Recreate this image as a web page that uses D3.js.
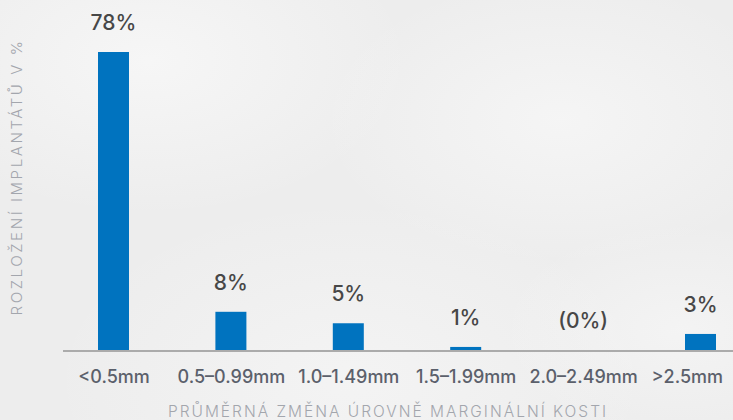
<!DOCTYPE html>
<html>
<head>
<meta charset="utf-8">
<script src="https://cdn.jsdelivr.net/npm/d3@7"></script>
<style>
  html, body { margin: 0; padding: 0; background: #efefef; }
  svg { display: block; }
</style>
</head>
<body>
<svg></svg>
<script>
const width = 733;
const height = 420;

// data
const categories = ["<0.5mm", "0.5–0.99mm", "1.0–1.49mm", "1.5–1.99mm", "2.0–2.49mm", ">2.5mm"];
const values = [78, 10, 7, 0.8, 0, 4.2];   // bar heights as drawn
const valueLabels = ["78%", "8%", "5%", "1%", "(0%)", "3%"];

const yTitle = "ROZLOŽENÍ IMPLANTÁTŮ V %";
const xTitle = "PRŮMĚRNÁ ZMĚNA ÚROVNĚ MARGINÁLNÍ KOSTI";

const baseY = 350;
const barW = 31;

const svg = d3.select("svg")
  .attr("width", width)
  .attr("height", height);

// cloudy background
const defs = svg.append("defs");
const clouds = [
  { id: "c1", cx: 150, cy: 60, r: 260, o: 0.7 },
  { id: "c2", cx: 560, cy: 120, r: 240, o: 0.6 },
  { id: "c3", cx: 350, cy: 380, r: 300, o: 0.5 },
  { id: "c4", cx: 680, cy: 330, r: 180, o: 0.5 }
];
clouds.forEach(c => {
  const g = defs.append("radialGradient").attr("id", c.id);
  g.append("stop").attr("offset", "0%").attr("stop-color", "#fafafa").attr("stop-opacity", c.o);
  g.append("stop").attr("offset", "100%").attr("stop-color", "#fafafa").attr("stop-opacity", 0);
});
svg.append("rect").attr("width", width).attr("height", height).attr("fill", "#ededed");
svg.selectAll("ellipse.cloud")
  .data(clouds)
  .enter()
  .append("ellipse")
  .attr("class", "cloud")
  .attr("cx", d => d.cx)
  .attr("cy", d => d.cy)
  .attr("rx", d => d.r)
  .attr("ry", d => d.r * 0.6)
  .attr("fill", d => `url(#${d.id})`);

const x = d3.scalePoint()
  .domain(categories)
  .range([113.5, 700.5]);

const y = d3.scaleLinear()
  .domain([0, 78])
  .range([baseY, 52]);

// bars
svg.selectAll("rect.bar")
  .data(values)
  .enter()
  .append("rect")
  .attr("class", "bar")
  .attr("x", (d, i) => x(categories[i]) - barW / 2)
  .attr("y", d => y(d))
  .attr("width", barW)
  .attr("height", d => baseY - y(d))
  .attr("fill", "#0073bf");

// baseline
svg.append("line")
  .attr("x1", 63)
  .attr("x2", width)
  .attr("y1", baseY + 1)
  .attr("y2", baseY + 1)
  .attr("stroke", "#ababab")
  .attr("stroke-width", 2);

// value labels
svg.selectAll("text.value")
  .data(valueLabels)
  .enter()
  .append("text")
  .attr("class", "value")
  .attr("x", (d, i) => x(categories[i]))
  .attr("y", (d, i) => y(values[i]) - 22)
  .attr("text-anchor", "middle")
  .attr("font-family", "Inter, sans-serif")
  .attr("font-size", 21)
  .attr("font-weight", 500)
  .attr("fill", "#474747")
  .text(d => d);

// category axis
const xAxis = svg.append("g")
  .attr("transform", `translate(0,${baseY})`)
  .call(d3.axisBottom(x).tickSize(0).tickPadding(20));
xAxis.select(".domain").remove();
xAxis.selectAll("text")
  .attr("font-family", "Inter, sans-serif")
  .attr("font-size", 18)
  .attr("font-weight", 500)
  .attr("fill", "#5b606b")
  .attr("dy", "0.71em")
  .each(function () {
    // keep the last label inside the frame
    const w = this.getComputedTextLength();
    const tx = +d3.select(this.parentNode).attr("transform").match(/translate\(([^,]+)/)[1];
    if (tx + w / 2 > width - 10) d3.select(this).attr("x", width - 10 - w / 2 - tx);
  });

// axis titles
svg.append("text")
  .attr("transform", `translate(22,${(38 + 316) / 2}) rotate(-90)`)
  .attr("text-anchor", "middle")
  .attr("font-family", "Inter, sans-serif")
  .attr("font-size", 15)
  .attr("font-weight", 300)
  .attr("letter-spacing", 2.6)
  .attr("fill", "#a3a6ad")
  .text(yTitle);

svg.append("text")
  .attr("x", 388)
  .attr("y", 417)
  .attr("text-anchor", "middle")
  .attr("font-family", "Inter, sans-serif")
  .attr("font-size", 15.5)
  .attr("font-weight", 300)
  .attr("letter-spacing", 2)
  .attr("fill", "#a3a6ad")
  .text(xTitle);
</script>
</body>
</html>
